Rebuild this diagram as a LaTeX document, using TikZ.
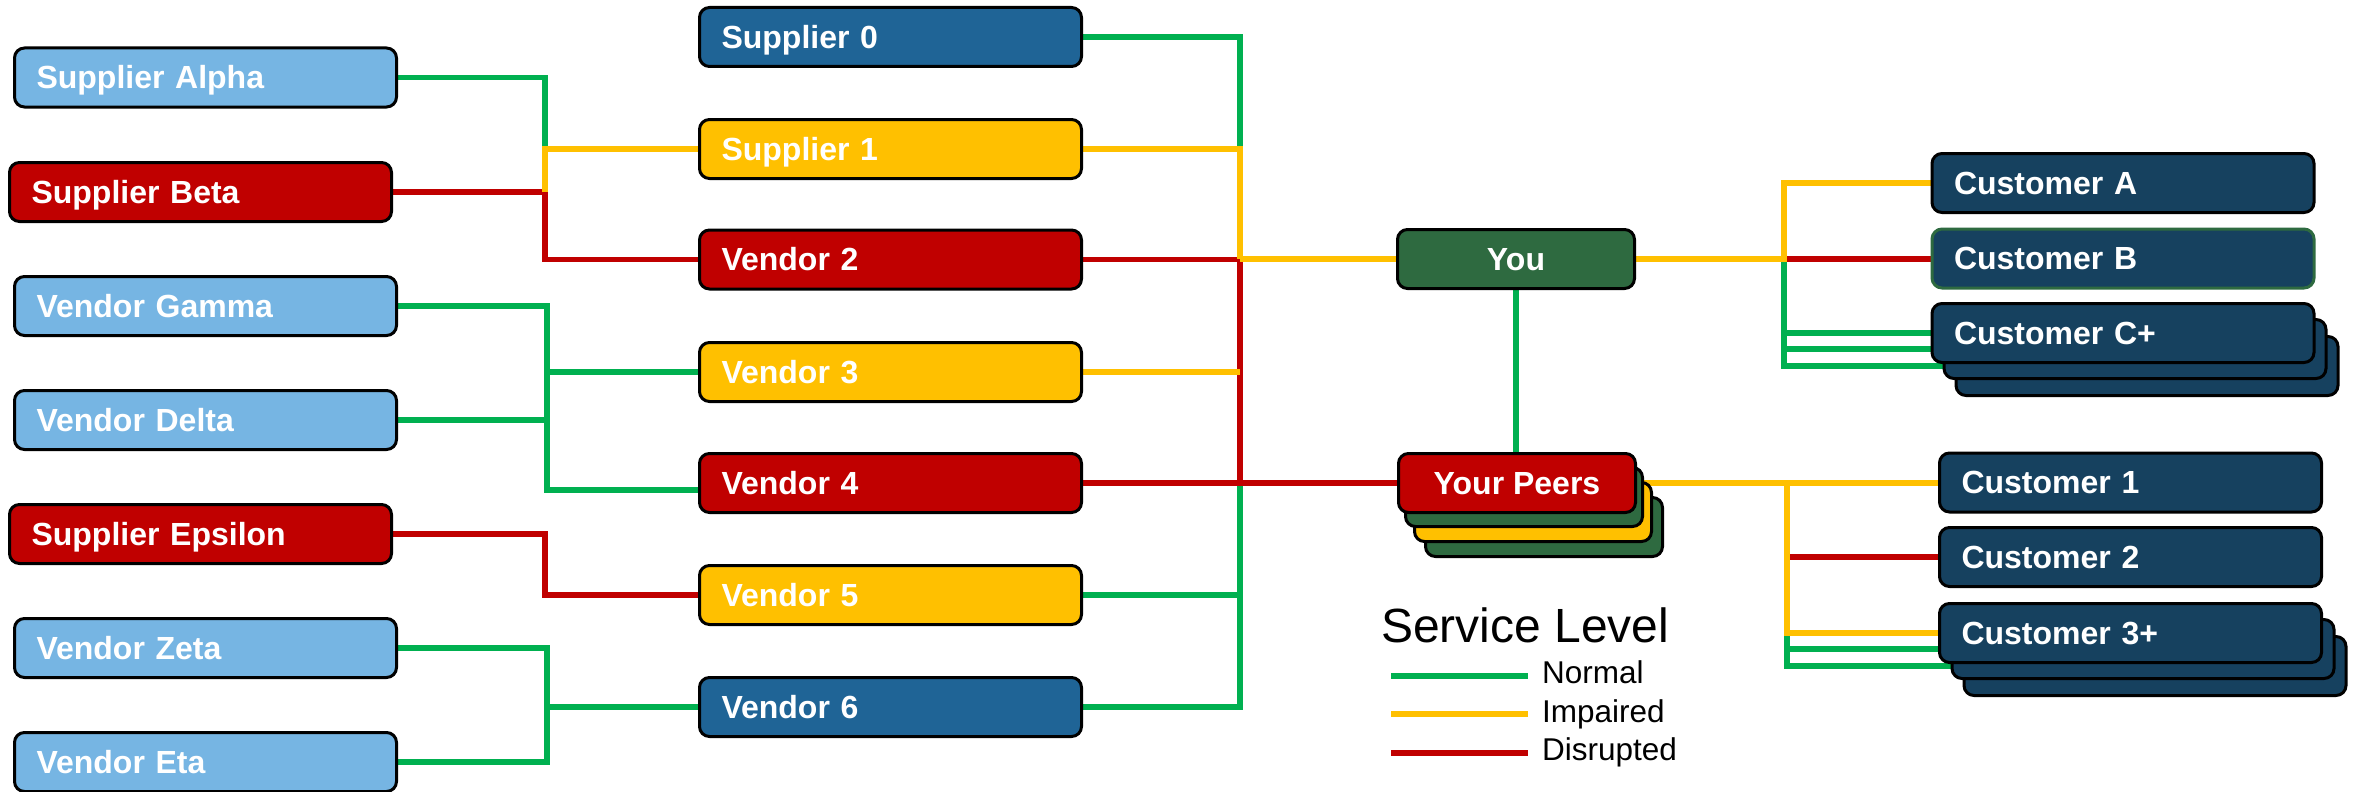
\documentclass[tikz,border=0pt]{standalone}
\usepackage{fontspec}
\setmainfont{Liberation Sans}
\usetikzlibrary{backgrounds}
\definecolor{lb}{HTML}{76B5E3}
\definecolor{db}{HTML}{1F6496}
\definecolor{nv}{HTML}{16415F}
\definecolor{rd}{HTML}{C00000}
\definecolor{yl}{HTML}{FFC000}
\definecolor{dg}{HTML}{2E6A40}
\definecolor{gn}{HTML}{00B050}
\begin{document}
\begin{tikzpicture}[x=1pt,y=-1pt,
  base/.style={draw=black, line width=3pt, rounded corners=10pt, inner ysep=0pt, minimum height=59pt},
  lbox/.style={base, text=white, font=\fontsize{32}{38}\selectfont\bfseries, text height=22.9pt, text depth=0pt, text width=338pt, inner xsep=22pt, align=left},
  cbox/.style={base, text=white, font=\fontsize{32}{38}\selectfont\bfseries, text height=22.9pt, text depth=0pt, minimum width=237pt, inner xsep=0pt},
  stackbox/.style={base, inner xsep=0pt, minimum width=#1},
  stackbox/.default=382pt,
  ln/.style={line width=5.5pt},
  lgline/.style={line width=6pt},
  lgtext/.style={anchor=base west, inner sep=0pt, font=\fontsize{31.5}{36}\selectfont},
]
\useasboundingbox (0,0) rectangle (2353,792);

% junction coordinates
\coordinate (gA) at (545,149);
\coordinate (gB) at (545,192);
\coordinate (gC) at (547,490);
\coordinate (gE) at (545,595);
\coordinate (xZ) at (547,0);
\coordinate (bus) at (1240,0);
\coordinate (rx) at (1784,0);
\coordinate (px) at (1787,0);

% ---------- left column ----------
\path
  (205.5,77.5) node[lbox, fill=lb] (alpha) {Supplier Alpha}
  (200.5,192) node[lbox, fill=rd] (beta) {Supplier Beta}
  (205.5,306) node[lbox, fill=lb] (gamma) {Vendor Gamma}
  (205.5,420) node[lbox, fill=lb] (delta) {Vendor Delta}
  (200.5,534) node[lbox, fill=rd] (epsilon) {Supplier Epsilon}
  (205.5,648) node[lbox, fill=lb] (zeta) {Vendor Zeta}
  (205.5,762) node[lbox, fill=lb] (eta) {Vendor Eta};

% ---------- middle column ----------
\path
  (890.5,37) node[lbox, fill=db] (s0) {Supplier 0}
  (890.5,149) node[lbox, fill=yl] (s1) {Supplier 1}
  (890.5,259.5) node[lbox, fill=rd] (v2) {Vendor 2}
  (890.5,372) node[lbox, fill=yl] (v3) {Vendor 3}
  (890.5,483) node[lbox, fill=rd] (v4) {Vendor 4}
  (890.5,595) node[lbox, fill=yl] (v5) {Vendor 5}
  (890.5,707) node[lbox, fill=db] (v6) {Vendor 6};

% ---------- You / Peers ----------
\node[stackbox=237pt, fill=dg] (peersL3) at (1544,527) {};
\node[stackbox=237pt, fill=yl] (peersL2) at (1533,512) {};
\node[stackbox=237pt, fill=dg] (peersL1) at (1524,497) {};
\node[cbox, fill=rd] (peers) at (1517,483) {Your Peers};
\node[cbox, fill=dg] (you) at (1516,259) {You};

% ---------- customers ----------
\node[stackbox, fill=nv] (ccL2) at (2147,366) {};
\node[stackbox, fill=nv] (ccL1) at (2135,349) {};
\node[lbox, fill=nv] (cc) at (2123,333) {Customer C+};
\node[lbox, fill=nv] (ca) at (2123,183) {Customer A};
\node[lbox, fill=nv, draw=dg] (cb) at (2123,258.5) {Customer B};

\node[stackbox, fill=nv] (c3L2) at (2155,666) {};
\node[stackbox, fill=nv] (c3L1) at (2143,649) {};
\node[lbox, fill=nv] (c3) at (2130.5,633) {Customer 3+};
\node[lbox, fill=nv] (c1) at (2130.5,482.5) {Customer 1};
\node[lbox, fill=nv] (c2) at (2130.5,557) {Customer 2};

% ---------- connectors (behind boxes) ----------
\begin{scope}[on background layer]
% left -> middle
\draw[ln,gn] (alpha.east) -| (gA);
\draw[ln,rd] (beta.east) -- (gB) |- (v2.west);
\draw[ln,yl] (gB) |- (s1.west);
\draw[ln,gn] (gamma.east) -| (gC) -- (gC -| v4.west);
\draw[ln,gn] (delta.east) -- (delta.east -| gC);
\draw[ln,gn] (v3.west -| gC) -- (v3.west);
\draw[ln,rd] (epsilon.east) -| (gE) -- (v5.west);
\draw[ln,gn] (zeta.east) -| (xZ |- eta.east) -- (eta.east);
\draw[ln,gn] (xZ |- v6.west) -- (v6.west);
% middle -> bus -> You / Peers
\draw[ln,gn] (s0.east) -| (bus |- s1.east);
\draw[ln,gn] (bus |- v4.east) -- (bus |- v6.east) -- (v6.east);
\draw[ln,gn] (v5.east) -- (bus |- v5.east);
\draw[ln,rd] (bus |- v2.east) -- (bus |- v4.east);
\draw[ln,rd] (v2.east) -- (bus |- v2.east);
\draw[ln,yl] (v3.east) -- (bus |- v3.east);
\draw[ln,yl] (s1.east) -| (bus |- you.west);
\draw[ln,yl] (bus |- you.west) -- (you.west);
\draw[ln,rd] (v4.east) -- (peers.west);
\draw[ln,gn] (you.south) -- (you.south |- peers.north);
% You -> customers
\draw[ln,gn] (rx |- you.east) -- (rx |- ccL2.west) -- (ccL2.west);
\draw[ln,gn] (rx |- ccL1.west) -- (ccL1.west);
\draw[ln,gn] (rx |- cc.west) -- (cc.west);
\draw[ln,rd] (rx |- you.east) -- (you.east -| cb.west);
\draw[ln,yl] (you.east) -- (rx |- you.east) |- (ca.west);
% Peers -> customers
\draw[ln,gn] (px |- c3.west) -- (px |- c3L2.west) -- (c3L2.west);
\draw[ln,gn] (px |- c3L1.west) -- (c3L1.west);
\draw[ln,rd] (px |- c2.west) -- (c2.west);
\draw[ln,yl] (peers.east) -- (peers.east -| c1.west);
\draw[ln,yl] (px |- peers.east) |- (c3.west);
\end{scope}

% ---------- legend ----------
\node[anchor=base west, inner sep=0pt, font=\fontsize{48}{56}\selectfont] (lgT) at (1381,642) {Service Level};
\coordinate (lgA1) at (1391,676); \coordinate (lgA2) at (1528,676);
\coordinate (lgB1) at (1391,714); \coordinate (lgB2) at (1528,714);
\coordinate (lgC1) at (1391,753); \coordinate (lgC2) at (1528,753);
\draw[lgline,gn] (lgA1) -- (lgA2);
\draw[lgline,yl] (lgB1) -- (lgB2);
\draw[lgline,rd] (lgC1) -- (lgC2);
\node[lgtext] (lgN) at (1542,683) {Normal};
\node[lgtext] (lgI) at (1542,722) {Impaired};
\node[lgtext] (lgD) at (1542,760) {Disrupted};
\end{tikzpicture}
\end{document}
